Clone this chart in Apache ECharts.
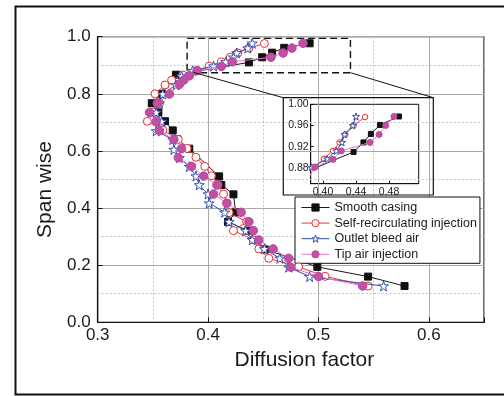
<!DOCTYPE html>
<html><head><meta charset="utf-8">
<script src="https://cdn.jsdelivr.net/npm/echarts@6/dist/echarts.min.js"></script>
<style>html,body{margin:0;padding:0;background:#fff}#c{width:504px;height:396px}</style>
</head><body><div id="c"></div>
<script>
// ---- data ----
const seriesNames = ['Smooth casing', 'Self-recirculating injection', 'Outlet bleed air', 'Tip air injection'];
const smoothX = [0.492,0.469,0.458,0.449,0.437,0.371,0.358,0.349,0.355,0.361,0.368,0.372,0.383,0.410,0.412,0.423,0.425,0.418,0.436,0.452,0.499,0.545,0.578];
const smoothY = [0.977,0.961,0.944,0.928,0.910,0.867,0.800,0.767,0.735,0.704,0.672,0.641,0.608,0.511,0.481,0.448,0.385,0.352,0.321,0.255,0.194,0.160,0.127];
const selfX = [0.451,0.437,0.427,0.420,0.412,0.401,0.390,0.377,0.367,0.361,0.352,0.356,0.350,0.345,0.359,0.373,0.381,0.389,0.397,0.403,0.409,0.414,0.417,0.419,0.435,0.423,0.441,0.446,0.455,0.482,0.506,0.545];
const selfY = [0.976,0.960,0.943,0.928,0.912,0.897,0.882,0.866,0.848,0.831,0.800,0.767,0.736,0.704,0.673,0.640,0.609,0.578,0.546,0.513,0.481,0.449,0.417,0.384,0.352,0.321,0.289,0.257,0.224,0.194,0.161,0.127];
const bleedX = [0.440,0.436,0.426,0.423,0.416,0.405,0.386,0.376,0.371,0.359,0.356,0.353,0.358,0.353,0.368,0.369,0.374,0.383,0.389,0.392,0.400,0.401,0.415,0.419,0.434,0.440,0.451,0.465,0.473,0.492,0.559];
const bleedY = [0.977,0.960,0.943,0.928,0.912,0.897,0.881,0.862,0.831,0.799,0.767,0.735,0.703,0.670,0.640,0.605,0.576,0.545,0.512,0.481,0.449,0.417,0.385,0.352,0.321,0.289,0.257,0.224,0.193,0.160,0.127];
const tipX = [0.486,0.476,0.468,0.457,0.422,0.412,0.390,0.383,0.378,0.374,0.365,0.354,0.347,0.353,0.356,0.369,0.376,0.373,0.385,0.396,0.408,0.405,0.417,0.430,0.437,0.441,0.446,0.459,0.473,0.475,0.500,0.540];
const tipY = [0.977,0.960,0.943,0.928,0.912,0.896,0.881,0.863,0.848,0.833,0.799,0.767,0.735,0.703,0.671,0.640,0.608,0.576,0.546,0.512,0.481,0.449,0.417,0.385,0.352,0.321,0.288,0.257,0.224,0.193,0.160,0.127];
const mainXTicks = [0.3, 0.4, 0.5, 0.6];
const mainYTicks = [0.0, 0.2, 0.4, 0.6, 0.8, 1.0];
const insetXTicks = [0.40, 0.44, 0.48];
const insetYTicks = [0.88, 0.92, 0.96, 1.00];
const zoomBox = [[0.381, 0.994], [0.529, 0.874]];

// ---- styles ----
const FONT = '"Liberation Sans", Arial, Helvetica, sans-serif';
const STAR = 'path://M50,2 L61,36 L97,36 L68,57 L79,92 L50,71 L21,92 L32,57 L3,36 L39,36 Z';
const styles = [
  {symbol: 'rect', size: 7, isize: 5, line: '#1a1a1a', border: '#111', fill: '#111'},
  {symbol: 'circle', size: 8, isize: 5.5, line: '#f03838', border: '#ee2a2a', fill: '#fff'},
  {symbol: STAR, size: 10, isize: 7, line: '#2f4fae', border: '#2f4fae', fill: '#fff'},
  {symbol: 'circle', size: 8.5, isize: 6, line: '#e27acb', border: '#b8489b', fill: '#c24fa3'}
];
const xs = [smoothX, selfX, bleedX, tipX];
const ys = [smoothY, selfY, bleedY, tipY];
function pairs(i) { return xs[i].map((x, k) => [x, ys[i][k]]); }

const series = [];
seriesNames.forEach((name, i) => {
  const s = styles[i];
  const common = {
    name, type: 'line', symbol: s.symbol,
    lineStyle: {color: s.line, width: 1},
    itemStyle: {color: s.fill, borderColor: s.border, borderWidth: 1},
    emphasis: {disabled: true}, animation: false
  };
  const main = Object.assign({}, common, {
    xAxisIndex: 0, yAxisIndex: 0, symbolSize: s.size, data: pairs(i), z: 3 + i
  });
  if (i === 0) {
    main.markArea = {
      silent: true, label: {show: false},
      itemStyle: {color: 'rgba(0,0,0,0)', borderColor: '#111', borderWidth: 1.4, borderType: [7, 4]},
      data: [[{coord: zoomBox[0]}, {coord: zoomBox[1]}]]
    };
  }
  series.push(main);
  series.push(Object.assign({}, common, {
    xAxisIndex: 2, yAxisIndex: 2, symbolSize: s.isize, data: pairs(i), clip: true, z: 3 + i
  }));
});

const legendData = seriesNames.map((name, i) => ({
  name,
  itemStyle: {color: styles[i].fill, borderColor: styles[i].border, borderWidth: 1},
  lineStyle: {color: styles[i].line, width: 1}
}));

const chart = echarts.init(document.getElementById('c'), null, {renderer: 'canvas'});
const axisText = {color: '#1a1a1a', fontFamily: FONT};
chart.setOption({
  backgroundColor: '#fff',
  textStyle: {fontFamily: FONT},
  grid: [
    {left: 97.7, top: 36.7, width: 386.3, height: 285.6, show: true, borderColor: '#111', borderWidth: 1.2, backgroundColor: 'transparent'},
    {left: 310.7, top: 104.3, width: 108, height: 79.4, show: true, borderColor: '#111', borderWidth: 1, backgroundColor: 'transparent'}
  ],
  legend: {
    data: legendData, orient: 'vertical', left: 295, top: 197,
    itemWidth: 28, itemHeight: 9, itemGap: 1.6,
    padding: [3.5, 3, 2, 6], borderColor: '#111', borderWidth: 1, backgroundColor: '#fff',
    textStyle: {fontSize: 12.5, color: '#1a1a1a', fontFamily: FONT, lineHeight: 14},
    selectedMode: false
  },
  xAxis: [
    {type: 'value', gridIndex: 0, min: 0.3, max: 0.65, interval: 0.1, z: 2,
     axisLine: {lineStyle: {color: '#111', width: 1.2}},
     axisTick: {inside: true, length: 5, lineStyle: {color: '#111'}},
     axisLabel: Object.assign({fontSize: 17, margin: 5, formatter: v => mainXTicks.some(t => Math.abs(t - v) < 1e-6) ? v.toFixed(1) : ''}, axisText),
     splitLine: {show: true, lineStyle: {color: '#a8a8a8', width: 1}},
     name: 'Diffusion factor', nameLocation: 'middle', nameGap: 27,
     nameTextStyle: {fontSize: 21, color: '#1a1a1a', fontFamily: FONT, padding: [0, 0, 0, 27]}},
    {type: 'value', gridIndex: 0, min: 0.3, max: 0.65, interval: 0.05, position: 'top', z: 1,
     axisLine: {show: false}, axisTick: {show: false}, axisLabel: {show: false},
     splitLine: {show: true, lineStyle: {color: '#c4c4c4', width: 1, type: [2, 2]}}},
    {type: 'value', gridIndex: 1, min: 0.385, max: 0.516,
     axisLine: {lineStyle: {color: '#111', width: 1}},
     axisTick: {inside: true, length: 3, customValues: insetXTicks, lineStyle: {color: '#111'}},
     axisLabel: Object.assign({fontSize: 10.5, margin: 3, customValues: insetXTicks, formatter: v => v.toFixed(2)}, axisText),
     splitLine: {show: false}}
  ],
  yAxis: [
    {type: 'value', gridIndex: 0, min: 0, max: 1, interval: 0.2, z: 2,
     axisLine: {lineStyle: {color: '#111', width: 1.2}},
     axisTick: {inside: true, length: 5, lineStyle: {color: '#111'}},
     axisLabel: Object.assign({fontSize: 17, margin: 7, formatter: v => v.toFixed(1)}, axisText),
     splitLine: {show: true, lineStyle: {color: '#a8a8a8', width: 1}},
     name: 'Span wise', nameLocation: 'middle', nameGap: 40,
     nameTextStyle: {fontSize: 21, color: '#1a1a1a', fontFamily: FONT, padding: [0, 20, 0, 0]}},
    {type: 'value', gridIndex: 0, min: 0, max: 1, interval: 0.1, position: 'right', z: 1,
     axisLine: {show: false}, axisTick: {show: false}, axisLabel: {show: false},
     splitLine: {show: true, lineStyle: {color: '#c4c4c4', width: 1, type: [2, 2]}}},
    {type: 'value', gridIndex: 1, min: 0.85, max: 1.0,
     axisLine: {lineStyle: {color: '#111', width: 1}},
     axisTick: {inside: true, length: 3, customValues: insetYTicks, lineStyle: {color: '#111'}},
     axisLabel: Object.assign({fontSize: 10.5, margin: 2, customValues: insetYTicks, formatter: v => v.toFixed(2)}, axisText),
     splitLine: {show: false}}
  ],
  series
});

// connectors from the dashed zoom box to the inset frame
const frame = {x: 283.3, y: 97.7, w: 150, h: 97.3};
const pL = chart.convertToPixel({gridIndex: 0}, [0.386, 0.876]);
const pR = chart.convertToPixel({gridIndex: 0}, [zoomBox[1][0], zoomBox[1][1]]);
chart.setOption({
  graphic: [
    {type: 'rect', shape: {x: 15.5, y: 6.5, width: 500, height: 388}, style: {fill: null, stroke: '#111', lineWidth: 2}, silent: true, z: 0},
    {type: 'rect', shape: {x: frame.x, y: frame.y, width: frame.w, height: frame.h}, style: {fill: null, stroke: '#111', lineWidth: 1.2}, silent: true, z: 10},
    {type: 'line', shape: {x1: pL[0], y1: pL[1], x2: frame.x, y2: frame.y}, style: {stroke: '#111', lineWidth: 1}, silent: true, z: 10},
    {type: 'line', shape: {x1: pR[0], y1: pR[1], x2: frame.x + frame.w, y2: frame.y}, style: {stroke: '#111', lineWidth: 1}, silent: true, z: 10}
  ]
});
</script>
</body></html>
